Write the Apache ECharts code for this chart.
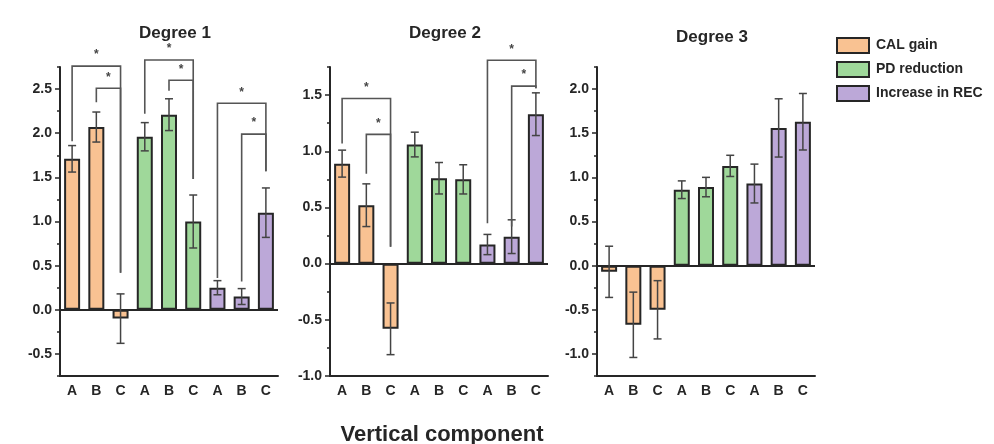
<!DOCTYPE html>
<html>
<head>
<meta charset="utf-8">
<script src="https://cdn.jsdelivr.net/npm/echarts@6/dist/echarts.min.js"></script>
<style>
  html, body { margin: 0; padding: 0; background: #fff; }
  #chart { width: 994px; height: 444px; }
</style>
</head>
<body>
<div id="chart"></div>
<script>
// data
const categories = ['A', 'B', 'C', 'A', 'B', 'C', 'A', 'B', 'C'];
const seriesNames = ['CAL gain', 'PD reduction', 'Increase in REC'];
const panelTitles = ['Degree 1', 'Degree 2', 'Degree 3'];

const deg1Means = [1.71, 2.07, -0.10, 1.96, 2.21, 1.00, 0.25, 0.15, 1.10];
const deg1Errors = [0.15, 0.17, 0.28, 0.16, 0.18, 0.30, 0.08, 0.09, 0.28];
const deg2Means = [0.89, 0.52, -0.58, 1.06, 0.76, 0.75, 0.17, 0.24, 1.33];
const deg2Errors = [0.12, 0.19, 0.23, 0.11, 0.14, 0.13, 0.09, 0.15, 0.19];
const deg3Means = [-0.07, -0.67, -0.50, 0.86, 0.89, 1.13, 0.93, 1.56, 1.63];
const deg3Errors = [0.29, 0.37, 0.33, 0.10, 0.11, 0.12, 0.22, 0.33, 0.32];

const yRanges = [[-0.75, 2.75], [-1.0, 1.75], [-1.25, 2.25]];
const yTickLabels = [
  [-0.5, 0, 0.5, 1, 1.5, 2, 2.5],
  [-1, -0.5, 0, 0.5, 1, 1.5],
  [-1, -0.5, 0, 0.5, 1, 1.5, 2]
];
const yMinorTicks = [
  [-0.75, -0.25, 0.25, 0.75, 1.25, 1.75, 2.25, 2.75],
  [-0.75, -0.25, 0.25, 0.75, 1.25, 1.75],
  [-1.25, -0.75, -0.25, 0.25, 0.75, 1.25, 1.75, 2.25]
];

// significance brackets: [from, to, top, fromLegEnd, toLegEnd]
const deg1Brackets = [
  [0, 2, 2.76, 1.91, 0.42], [1, 2, 2.51, 2.35, 0.42],
  [3, 5, 2.83, 2.22, 1.48], [4, 5, 2.60, 2.48, 1.48],
  [6, 8, 2.34, 0.36, 1.57], [7, 8, 1.99, 0.32, 1.57]
];
const deg2Brackets = [
  [0, 2, 1.47, 1.07, 0.15], [1, 2, 1.15, 0.80, 0.15],
  [6, 8, 1.81, 0.36, 1.56], [7, 8, 1.58, 0.33, 1.56]
];
const deg3Brackets = [];

const panels = [
  { means: deg1Means, errors: deg1Errors, brackets: deg1Brackets },
  { means: deg2Means, errors: deg2Errors, brackets: deg2Brackets },
  { means: deg3Means, errors: deg3Errors, brackets: deg3Brackets }
];

const colors = ['#F9C292', '#9FD89A', '#BCA8D8'];
const FONT = 'Liberation Sans';
const INK = '#262626';
const panelLeft = [60, 330, 597];
const panelTop = 67, panelWidth = 218, panelHeight = 309;

function errorBarItem(params, api) {
  const x = api.value(0);
  const lo = api.coord([x, api.value(1)]);
  const hi = api.coord([x, api.value(2)]);
  const hw = 4;
  const style = { stroke: '#444', lineWidth: 1.5 };
  return {
    type: 'group',
    children: [
      { type: 'line', shape: { x1: lo[0], y1: lo[1], x2: hi[0], y2: hi[1] }, style },
      { type: 'line', shape: { x1: hi[0] - hw, y1: hi[1], x2: hi[0] + hw, y2: hi[1] }, style },
      { type: 'line', shape: { x1: lo[0] - hw, y1: lo[1], x2: lo[0] + hw, y2: lo[1] }, style }
    ]
  };
}

function bracketItem(params, api) {
  const a = api.coord([api.value(0), api.value(3)]);
  const aTop = api.coord([api.value(0), api.value(2)]);
  const bTop = api.coord([api.value(1), api.value(2)]);
  const b = api.coord([api.value(1), api.value(4)]);
  return {
    type: 'group',
    children: [
      {
        type: 'polyline',
        shape: { points: [a, aTop, bTop, b] },
        style: { stroke: '#555', lineWidth: 1.6, fill: null }
      },
      {
        type: 'text',
        x: (aTop[0] + bTop[0]) / 2,
        y: aTop[1] - 11,
        style: {
          text: '*', fill: '#444', font: 'bold 12px ' + FONT,
          align: 'center', verticalAlign: 'middle'
        }
      }
    ]
  };
}

const grid = [], xAxis = [], yAxis = [], series = [], title = [];

panels.forEach((p, i) => {
  grid.push({ left: panelLeft[i], top: panelTop, width: panelWidth, height: panelHeight });

  title.push({
    text: panelTitles[i],
    left: panelLeft[i] + panelWidth / 2 + 1,
    top: i === 2 ? 24 : 20,
    textAlign: 'center',
    textStyle: { fontFamily: FONT, fontSize: 17, fontWeight: 'bold', color: INK }
  });

  xAxis.push({
    type: 'category', gridIndex: i, data: categories, position: 'bottom',
    axisLine: { onZero: false, lineStyle: { color: INK, width: 2 } },
    axisTick: { alignWithLabel: true, interval: 0, length: 5, lineStyle: { color: INK, width: 1.5 } },
    axisLabel: { interval: 0, margin: 8, color: INK, fontFamily: FONT, fontSize: 14, fontWeight: 'bold' }
  });
  xAxis.push({
    type: 'category', gridIndex: i, data: categories, position: 'bottom',
    axisLine: { show: false },
    axisTick: { interval: 0, length: 3, lineStyle: { color: INK, width: 1.5 } },
    axisLabel: { show: false }
  });

  yAxis.push({
    type: 'value', gridIndex: i, position: 'left',
    min: yRanges[i][0], max: yRanges[i][1],
    splitLine: { show: false },
    axisLine: { show: true, lineStyle: { color: INK, width: 2 } },
    axisTick: { show: true, length: 5, customValues: yTickLabels[i], lineStyle: { color: INK, width: 1.5 } },
    axisLabel: {
      customValues: yTickLabels[i], margin: 8,
      formatter: v => Number(v).toFixed(1),
      color: INK, fontFamily: FONT, fontSize: 14, fontWeight: 'bold'
    }
  });
  yAxis.push({
    type: 'value', gridIndex: i, position: 'left',
    min: yRanges[i][0], max: yRanges[i][1],
    splitLine: { show: false },
    axisLine: { show: false },
    axisTick: { show: true, length: 3, customValues: yMinorTicks[i], lineStyle: { color: INK, width: 1.5 } },
    axisLabel: { show: false }
  });

  seriesNames.forEach((name, g) => {
    const s = {
      type: 'bar', name,
      xAxisIndex: 2 * i, yAxisIndex: 2 * i,
      barWidth: 16, barGap: '-100%',
      data: p.means.map((v, k) => (Math.floor(k / 3) === g ? v : '-')),
      itemStyle: { color: colors[g], borderColor: INK, borderWidth: 2 },
      silent: true
    };
    if (g === 0) {
      s.markLine = {
        silent: true, symbol: 'none', label: { show: false },
        lineStyle: { color: INK, width: 2, type: 'solid' },
        data: [{ yAxis: 0 }]
      };
    }
    series.push(s);
  });

  series.push({
    type: 'custom', xAxisIndex: 2 * i, yAxisIndex: 2 * i, silent: true, z: 5,
    renderItem: errorBarItem,
    data: p.means.map((v, k) => [k, v - p.errors[k], v + p.errors[k]])
  });

  if (p.brackets.length) {
    series.push({
      type: 'custom', xAxisIndex: 2 * i, yAxisIndex: 2 * i, silent: true, z: 6, clip: false,
      renderItem: bracketItem,
      data: p.brackets
    });
  }
});

title.push({
  text: 'Vertical component', left: 437, top: 419, textAlign: 'center',
  textStyle: { fontFamily: FONT, fontSize: 22, fontWeight: 'bold', color: INK }
});

const chart = echarts.init(document.getElementById('chart'));
chart.setOption({
  backgroundColor: '#fff',
  animation: false,
  title,
  legend: {
    data: seriesNames, orient: 'vertical', left: 836, top: 37, padding: 0,
    itemWidth: 32, itemHeight: 15, itemGap: 7, icon: 'rect',
    textStyle: { fontFamily: FONT, fontSize: 14, fontWeight: 'bold', color: INK, padding: [0, 0, 0, 2] }
  },
  grid, xAxis, yAxis, series
});
</script>
</body>
</html>
